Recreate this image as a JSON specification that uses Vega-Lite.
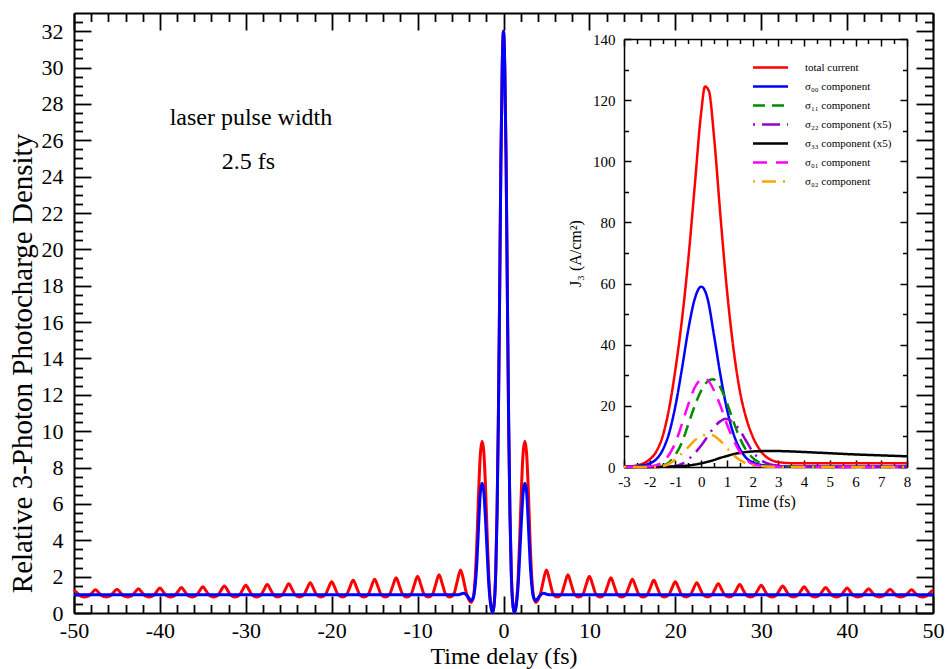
{
  "$schema": "https://vega.github.io/schema/vega-lite/v6.json",
  "width": 859,
  "height": 600,
  "autosize": {"type": "none"},
  "padding": {"left": 74, "top": 13, "right": 15, "bottom": 56},
  "background": "white",
  "config": {
    "font": "Liberation Serif",
    "view": {"stroke": null},
    "axis": {"grid": false, "domainColor": "black", "tickColor": "black", "labelColor": "black", "titleColor": "black", "titleFontWeight": "normal", "labelFlush": false, "labelOverlap": false},
    "legend": {"labelFont": "Liberation Serif", "labelFontSize": 11, "labelColor": "black"}
  },
  "datasets": {
    "red": [
      {"t": -50, "v": 1.26}, {"t": -49.6, "v": 1.1}, {"t": -49.25, "v": 0.94}, {"t": -48.75, "v": 0.88}, {"t": -48.25, "v": 0.95}, {"t": -47.9, "v": 1.11}, {"t": -47.5, "v": 1.28}, {"t": -47.1, "v": 1.11}, {"t": -46.75, "v": 0.95}, {"t": -46.25, "v": 0.88},
      {"t": -45.75, "v": 0.95}, {"t": -45.4, "v": 1.13}, {"t": -45, "v": 1.31}, {"t": -44.6, "v": 1.13}, {"t": -44.25, "v": 0.95}, {"t": -43.75, "v": 0.88}, {"t": -43.25, "v": 0.95}, {"t": -42.9, "v": 1.14}, {"t": -42.5, "v": 1.33}, {"t": -42.1, "v": 1.14}, {"t": -41.75, "v": 0.95}, {"t": -41.25, "v": 0.88},
      {"t": -40.75, "v": 0.96}, {"t": -40.4, "v": 1.16}, {"t": -40, "v": 1.37}, {"t": -39.6, "v": 1.16}, {"t": -39.25, "v": 0.96}, {"t": -38.75, "v": 0.88}, {"t": -38.25, "v": 0.96}, {"t": -37.9, "v": 1.18}, {"t": -37.5, "v": 1.4}, {"t": -37.1, "v": 1.18}, {"t": -36.75, "v": 0.96}, {"t": -36.25, "v": 0.88},
      {"t": -35.75, "v": 0.97}, {"t": -35.4, "v": 1.2}, {"t": -35, "v": 1.44}, {"t": -34.6, "v": 1.2}, {"t": -34.25, "v": 0.97}, {"t": -33.75, "v": 0.88}, {"t": -33.25, "v": 0.97}, {"t": -32.9, "v": 1.23}, {"t": -32.5, "v": 1.49}, {"t": -32.1, "v": 1.23}, {"t": -31.75, "v": 0.97}, {"t": -31.25, "v": 0.88},
      {"t": -30.75, "v": 0.98}, {"t": -30.4, "v": 1.25}, {"t": -30, "v": 1.53}, {"t": -29.6, "v": 1.25}, {"t": -29.25, "v": 0.98}, {"t": -28.75, "v": 0.88}, {"t": -28.25, "v": 0.98}, {"t": -27.9, "v": 1.27}, {"t": -27.5, "v": 1.57}, {"t": -27.1, "v": 1.27}, {"t": -26.75, "v": 0.98}, {"t": -26.25, "v": 0.88},
      {"t": -25.75, "v": 0.99}, {"t": -25.4, "v": 1.29}, {"t": -25, "v": 1.61}, {"t": -24.6, "v": 1.29}, {"t": -24.25, "v": 0.99}, {"t": -23.75, "v": 0.88}, {"t": -23.25, "v": 0.99}, {"t": -22.9, "v": 1.32}, {"t": -22.5, "v": 1.67}, {"t": -22.1, "v": 1.32}, {"t": -21.75, "v": 0.99}, {"t": -21.25, "v": 0.88},
      {"t": -20.75, "v": 1.0}, {"t": -20.4, "v": 1.35}, {"t": -20, "v": 1.72}, {"t": -19.6, "v": 1.35}, {"t": -19.25, "v": 1.0}, {"t": -18.75, "v": 0.88}, {"t": -18.25, "v": 1.01}, {"t": -17.9, "v": 1.4}, {"t": -17.5, "v": 1.8}, {"t": -17.1, "v": 1.4}, {"t": -16.75, "v": 1.01}, {"t": -16.25, "v": 0.88},
      {"t": -15.75, "v": 1.02}, {"t": -15.4, "v": 1.43}, {"t": -15, "v": 1.86}, {"t": -14.6, "v": 1.43}, {"t": -14.25, "v": 1.02}, {"t": -13.75, "v": 0.88}, {"t": -13.25, "v": 1.03}, {"t": -12.9, "v": 1.47}, {"t": -12.5, "v": 1.94}, {"t": -12.1, "v": 1.47}, {"t": -11.75, "v": 1.03}, {"t": -11.25, "v": 0.88},
      {"t": -10.75, "v": 1.03}, {"t": -10.4, "v": 1.52}, {"t": -10, "v": 2.02}, {"t": -9.6, "v": 1.52}, {"t": -9.25, "v": 1.03}, {"t": -8.75, "v": 0.88}, {"t": -8.25, "v": 1.04}, {"t": -7.9, "v": 1.56}, {"t": -7.5, "v": 2.1}, {"t": -7.1, "v": 1.56}, {"t": -6.75, "v": 1.04}, {"t": -6.25, "v": 0.88},
      {"t": -5.75, "v": 1.08}, {"t": -5.4, "v": 1.71}, {"t": -5, "v": 2.37}, {"t": -4.65, "v": 1.8}, {"t": -4.4, "v": 1.25}, {"t": -4.1, "v": 0.8}, {"t": -3.78, "v": 0.59}, {"t": -3.5, "v": 0.9}, {"t": -3.3, "v": 1.9}, {"t": -3.1, "v": 3.9}, {"t": -2.9, "v": 6.6}, {"t": -2.7, "v": 8.7}, {"t": -2.5, "v": 9.45}, {"t": -2.3, "v": 8.9}, {"t": -2.1, "v": 7.0}, {"t": -1.9, "v": 4.3}, {"t": -1.7, "v": 1.9}, {"t": -1.45, "v": 0.4}, {"t": -1.25, "v": 0.02},
      {"t": -1.05, "v": 0.7}, {"t": -0.9, "v": 2.3}, {"t": -0.75, "v": 5.5}, {"t": -0.6, "v": 10.5}, {"t": -0.45, "v": 17.5}, {"t": -0.3, "v": 25}, {"t": -0.15, "v": 30}, {"t": 0, "v": 32},
      {"t": 0.15, "v": 30}, {"t": 0.3, "v": 25}, {"t": 0.45, "v": 17.5}, {"t": 0.6, "v": 10.5}, {"t": 0.75, "v": 5.5}, {"t": 0.9, "v": 2.3}, {"t": 1.05, "v": 0.7},
      {"t": 1.25, "v": 0.02}, {"t": 1.45, "v": 0.4}, {"t": 1.7, "v": 1.9}, {"t": 1.9, "v": 4.3}, {"t": 2.1, "v": 7.0}, {"t": 2.3, "v": 8.9}, {"t": 2.5, "v": 9.45}, {"t": 2.7, "v": 8.7}, {"t": 2.9, "v": 6.6}, {"t": 3.1, "v": 3.9}, {"t": 3.3, "v": 1.9}, {"t": 3.5, "v": 0.9}, {"t": 3.78, "v": 0.59}, {"t": 4.1, "v": 0.8}, {"t": 4.4, "v": 1.25}, {"t": 4.65, "v": 1.8}, {"t": 5, "v": 2.37}, {"t": 5.4, "v": 1.71}, {"t": 5.75, "v": 1.08},
      {"t": 6.25, "v": 0.88}, {"t": 6.75, "v": 1.04}, {"t": 7.1, "v": 1.56}, {"t": 7.5, "v": 2.1}, {"t": 7.9, "v": 1.56}, {"t": 8.25, "v": 1.04}, {"t": 8.75, "v": 0.88}, {"t": 9.25, "v": 1.03}, {"t": 9.6, "v": 1.52}, {"t": 10, "v": 2.02}, {"t": 10.4, "v": 1.52}, {"t": 10.75, "v": 1.03},
      {"t": 11.25, "v": 0.88}, {"t": 11.75, "v": 1.03}, {"t": 12.1, "v": 1.47}, {"t": 12.5, "v": 1.94}, {"t": 12.9, "v": 1.47}, {"t": 13.25, "v": 1.03}, {"t": 13.75, "v": 0.88}, {"t": 14.25, "v": 1.02}, {"t": 14.6, "v": 1.43}, {"t": 15, "v": 1.86}, {"t": 15.4, "v": 1.43}, {"t": 15.75, "v": 1.02},
      {"t": 16.25, "v": 0.88}, {"t": 16.75, "v": 1.01}, {"t": 17.1, "v": 1.4}, {"t": 17.5, "v": 1.8}, {"t": 17.9, "v": 1.4}, {"t": 18.25, "v": 1.01}, {"t": 18.75, "v": 0.88}, {"t": 19.25, "v": 1.0}, {"t": 19.6, "v": 1.35}, {"t": 20, "v": 1.72}, {"t": 20.4, "v": 1.35}, {"t": 20.75, "v": 1.0},
      {"t": 21.25, "v": 0.88}, {"t": 21.75, "v": 0.99}, {"t": 22.1, "v": 1.32}, {"t": 22.5, "v": 1.67}, {"t": 22.9, "v": 1.32}, {"t": 23.25, "v": 0.99}, {"t": 23.75, "v": 0.88}, {"t": 24.25, "v": 0.99}, {"t": 24.6, "v": 1.29}, {"t": 25, "v": 1.61}, {"t": 25.4, "v": 1.29}, {"t": 25.75, "v": 0.99},
      {"t": 26.25, "v": 0.88}, {"t": 26.75, "v": 0.98}, {"t": 27.1, "v": 1.27}, {"t": 27.5, "v": 1.57}, {"t": 27.9, "v": 1.27}, {"t": 28.25, "v": 0.98}, {"t": 28.75, "v": 0.88}, {"t": 29.25, "v": 0.98}, {"t": 29.6, "v": 1.25}, {"t": 30, "v": 1.53}, {"t": 30.4, "v": 1.25}, {"t": 30.75, "v": 0.98},
      {"t": 31.25, "v": 0.88}, {"t": 31.75, "v": 0.97}, {"t": 32.1, "v": 1.23}, {"t": 32.5, "v": 1.49}, {"t": 32.9, "v": 1.23}, {"t": 33.25, "v": 0.97}, {"t": 33.75, "v": 0.88}, {"t": 34.25, "v": 0.97}, {"t": 34.6, "v": 1.2}, {"t": 35, "v": 1.44}, {"t": 35.4, "v": 1.2}, {"t": 35.75, "v": 0.97},
      {"t": 36.25, "v": 0.88}, {"t": 36.75, "v": 0.96}, {"t": 37.1, "v": 1.18}, {"t": 37.5, "v": 1.4}, {"t": 37.9, "v": 1.18}, {"t": 38.25, "v": 0.96}, {"t": 38.75, "v": 0.88}, {"t": 39.25, "v": 0.96}, {"t": 39.6, "v": 1.16}, {"t": 40, "v": 1.37}, {"t": 40.4, "v": 1.16}, {"t": 40.75, "v": 0.96},
      {"t": 41.25, "v": 0.88}, {"t": 41.75, "v": 0.95}, {"t": 42.1, "v": 1.14}, {"t": 42.5, "v": 1.33}, {"t": 42.9, "v": 1.14}, {"t": 43.25, "v": 0.95}, {"t": 43.75, "v": 0.88}, {"t": 44.25, "v": 0.95}, {"t": 44.6, "v": 1.13}, {"t": 45, "v": 1.31}, {"t": 45.4, "v": 1.13}, {"t": 45.75, "v": 0.95},
      {"t": 46.25, "v": 0.88}, {"t": 46.75, "v": 0.95}, {"t": 47.1, "v": 1.11}, {"t": 47.5, "v": 1.28}, {"t": 47.9, "v": 1.11}, {"t": 48.25, "v": 0.95}, {"t": 48.75, "v": 0.88}, {"t": 49.25, "v": 0.94}, {"t": 49.6, "v": 1.1}, {"t": 50, "v": 1.26}
    ],
    "blue": [
      {"t": -50, "v": 1.0}, {"t": -40, "v": 1.0}, {"t": -30, "v": 1.0}, {"t": -20, "v": 1.0}, {"t": -10, "v": 1.0}, {"t": -5.5, "v": 1.0}, {"t": -5.1, "v": 1.02}, {"t": -4.68, "v": 1.08}, {"t": -4.3, "v": 0.98}, {"t": -4.0, "v": 0.8}, {"t": -3.75, "v": 0.68}, {"t": -3.5, "v": 0.85}, {"t": -3.3, "v": 1.5}, {"t": -3.1, "v": 2.8}, {"t": -2.9, "v": 4.8}, {"t": -2.7, "v": 6.6}, {"t": -2.5, "v": 7.14}, {"t": -2.3, "v": 6.7}, {"t": -2.1, "v": 5.2}, {"t": -1.9, "v": 3.3}, {"t": -1.7, "v": 1.5}, {"t": -1.45, "v": 0.3}, {"t": -1.25, "v": 0.02},
      {"t": -1.05, "v": 0.7}, {"t": -0.9, "v": 2.3}, {"t": -0.75, "v": 5.5}, {"t": -0.6, "v": 10.5}, {"t": -0.45, "v": 17.5}, {"t": -0.3, "v": 25}, {"t": -0.15, "v": 30}, {"t": 0, "v": 32},
      {"t": 0.15, "v": 30}, {"t": 0.3, "v": 25}, {"t": 0.45, "v": 17.5}, {"t": 0.6, "v": 10.5}, {"t": 0.75, "v": 5.5}, {"t": 0.9, "v": 2.3}, {"t": 1.05, "v": 0.7},
      {"t": 1.25, "v": 0.02}, {"t": 1.45, "v": 0.3}, {"t": 1.7, "v": 1.5}, {"t": 1.9, "v": 3.3}, {"t": 2.1, "v": 5.2}, {"t": 2.3, "v": 6.7}, {"t": 2.5, "v": 7.14}, {"t": 2.7, "v": 6.6}, {"t": 2.9, "v": 4.8}, {"t": 3.1, "v": 2.8}, {"t": 3.3, "v": 1.5}, {"t": 3.5, "v": 0.85}, {"t": 3.75, "v": 0.68}, {"t": 4.0, "v": 0.8}, {"t": 4.3, "v": 0.98}, {"t": 4.68, "v": 1.08}, {"t": 5.1, "v": 1.02}, {"t": 5.5, "v": 1.0}, {"t": 10, "v": 1.0}, {"t": 20, "v": 1.0}, {"t": 30, "v": 1.0}, {"t": 40, "v": 1.0}, {"t": 50, "v": 1.0}
    ],
    "notes": [
      {"t": -29.4, "v": 27.2, "label": "laser pulse width"},
      {"t": -29.7, "v": 24.8, "label": "2.5 fs"}
    ],
    "inset": [
      {"s": "total current", "t": -3, "j": 0.1}, {"s": "total current", "t": -2.5, "j": 0.5}, {"s": "total current", "t": -2.25, "j": 1.2}, {"s": "total current", "t": -2, "j": 2.5}, {"s": "total current", "t": -1.75, "j": 5}, {"s": "total current", "t": -1.5, "j": 10}, {"s": "total current", "t": -1.25, "j": 19}, {"s": "total current", "t": -1, "j": 32}, {"s": "total current", "t": -0.75, "j": 48}, {"s": "total current", "t": -0.5, "j": 68}, {"s": "total current", "t": -0.25, "j": 92}, {"s": "total current", "t": 0, "j": 116}, {"s": "total current", "t": 0.15, "j": 124.5}, {"s": "total current", "t": 0.3, "j": 123}, {"s": "total current", "t": 0.5, "j": 108}, {"s": "total current", "t": 0.75, "j": 82}, {"s": "total current", "t": 1, "j": 58}, {"s": "total current", "t": 1.25, "j": 39}, {"s": "total current", "t": 1.5, "j": 25}, {"s": "total current", "t": 1.75, "j": 16}, {"s": "total current", "t": 2, "j": 10}, {"s": "total current", "t": 2.25, "j": 6}, {"s": "total current", "t": 2.5, "j": 3.5}, {"s": "total current", "t": 2.75, "j": 2.2}, {"s": "total current", "t": 3, "j": 1.6}, {"s": "total current", "t": 3.5, "j": 1.25}, {"s": "total current", "t": 4, "j": 1.2}, {"s": "total current", "t": 5, "j": 1.2}, {"s": "total current", "t": 6, "j": 1.2}, {"s": "total current", "t": 7, "j": 1.2}, {"s": "total current", "t": 8, "j": 1.2},
      {"s": "σ₀₀ component", "t": -3, "j": 0}, {"s": "σ₀₀ component", "t": -2.5, "j": 0.3}, {"s": "σ₀₀ component", "t": -2, "j": 1.2}, {"s": "σ₀₀ component", "t": -1.75, "j": 2.5}, {"s": "σ₀₀ component", "t": -1.5, "j": 5.5}, {"s": "σ₀₀ component", "t": -1.25, "j": 11}, {"s": "σ₀₀ component", "t": -1, "j": 20}, {"s": "σ₀₀ component", "t": -0.75, "j": 32}, {"s": "σ₀₀ component", "t": -0.5, "j": 45}, {"s": "σ₀₀ component", "t": -0.25, "j": 55}, {"s": "σ₀₀ component", "t": 0, "j": 59}, {"s": "σ₀₀ component", "t": 0.25, "j": 55}, {"s": "σ₀₀ component", "t": 0.5, "j": 43}, {"s": "σ₀₀ component", "t": 0.75, "j": 30}, {"s": "σ₀₀ component", "t": 1, "j": 19}, {"s": "σ₀₀ component", "t": 1.25, "j": 11}, {"s": "σ₀₀ component", "t": 1.5, "j": 6}, {"s": "σ₀₀ component", "t": 1.75, "j": 3}, {"s": "σ₀₀ component", "t": 2, "j": 1.5}, {"s": "σ₀₀ component", "t": 2.5, "j": 0.5}, {"s": "σ₀₀ component", "t": 3, "j": 0.3}, {"s": "σ₀₀ component", "t": 4, "j": 0.2}, {"s": "σ₀₀ component", "t": 6, "j": 0.2}, {"s": "σ₀₀ component", "t": 8, "j": 0.2},
      {"s": "σ₁₁ component", "t": -3, "j": 0}, {"s": "σ₁₁ component", "t": -2, "j": 0}, {"s": "σ₁₁ component", "t": -1.5, "j": 0.5}, {"s": "σ₁₁ component", "t": -1.25, "j": 1.5}, {"s": "σ₁₁ component", "t": -1, "j": 4}, {"s": "σ₁₁ component", "t": -0.75, "j": 8}, {"s": "σ₁₁ component", "t": -0.5, "j": 14}, {"s": "σ₁₁ component", "t": -0.25, "j": 20}, {"s": "σ₁₁ component", "t": 0, "j": 25}, {"s": "σ₁₁ component", "t": 0.25, "j": 28}, {"s": "σ₁₁ component", "t": 0.45, "j": 28.7}, {"s": "σ₁₁ component", "t": 0.75, "j": 26}, {"s": "σ₁₁ component", "t": 1, "j": 21}, {"s": "σ₁₁ component", "t": 1.25, "j": 15}, {"s": "σ₁₁ component", "t": 1.5, "j": 9.5}, {"s": "σ₁₁ component", "t": 1.75, "j": 5.5}, {"s": "σ₁₁ component", "t": 2, "j": 3}, {"s": "σ₁₁ component", "t": 2.25, "j": 1.5}, {"s": "σ₁₁ component", "t": 2.5, "j": 0.8}, {"s": "σ₁₁ component", "t": 3, "j": 0.3}, {"s": "σ₁₁ component", "t": 4, "j": 0.1}, {"s": "σ₁₁ component", "t": 5, "j": 0}, {"s": "σ₁₁ component", "t": 8, "j": 0},
      {"s": "σ₂₂ component (x5)", "t": -3, "j": 0}, {"s": "σ₂₂ component (x5)", "t": -1.5, "j": 0}, {"s": "σ₂₂ component (x5)", "t": -1, "j": 0.3}, {"s": "σ₂₂ component (x5)", "t": -0.75, "j": 1}, {"s": "σ₂₂ component (x5)", "t": -0.5, "j": 2.5}, {"s": "σ₂₂ component (x5)", "t": -0.25, "j": 4.5}, {"s": "σ₂₂ component (x5)", "t": 0, "j": 7}, {"s": "σ₂₂ component (x5)", "t": 0.25, "j": 10}, {"s": "σ₂₂ component (x5)", "t": 0.5, "j": 13}, {"s": "σ₂₂ component (x5)", "t": 0.75, "j": 15}, {"s": "σ₂₂ component (x5)", "t": 0.95, "j": 15.8}, {"s": "σ₂₂ component (x5)", "t": 1.25, "j": 14.5}, {"s": "σ₂₂ component (x5)", "t": 1.5, "j": 12}, {"s": "σ₂₂ component (x5)", "t": 1.75, "j": 8.5}, {"s": "σ₂₂ component (x5)", "t": 2, "j": 5}, {"s": "σ₂₂ component (x5)", "t": 2.25, "j": 2.8}, {"s": "σ₂₂ component (x5)", "t": 2.5, "j": 1.4}, {"s": "σ₂₂ component (x5)", "t": 3, "j": 0.4}, {"s": "σ₂₂ component (x5)", "t": 4, "j": 0.1}, {"s": "σ₂₂ component (x5)", "t": 5, "j": 0}, {"s": "σ₂₂ component (x5)", "t": 8, "j": 0},
      {"s": "σ₃₃ component (x5)", "t": -3, "j": 0}, {"s": "σ₃₃ component (x5)", "t": -1.5, "j": 0.05}, {"s": "σ₃₃ component (x5)", "t": -1, "j": 0.2}, {"s": "σ₃₃ component (x5)", "t": -0.5, "j": 0.5}, {"s": "σ₃₃ component (x5)", "t": 0, "j": 1.2}, {"s": "σ₃₃ component (x5)", "t": 0.25, "j": 1.7}, {"s": "σ₃₃ component (x5)", "t": 0.5, "j": 2.3}, {"s": "σ₃₃ component (x5)", "t": 0.75, "j": 3}, {"s": "σ₃₃ component (x5)", "t": 1, "j": 3.6}, {"s": "σ₃₃ component (x5)", "t": 1.25, "j": 4.2}, {"s": "σ₃₃ component (x5)", "t": 1.5, "j": 4.6}, {"s": "σ₃₃ component (x5)", "t": 1.75, "j": 4.9}, {"s": "σ₃₃ component (x5)", "t": 2, "j": 5.1}, {"s": "σ₃₃ component (x5)", "t": 2.5, "j": 5.2}, {"s": "σ₃₃ component (x5)", "t": 3, "j": 5.2}, {"s": "σ₃₃ component (x5)", "t": 4, "j": 4.9}, {"s": "σ₃₃ component (x5)", "t": 5, "j": 4.5}, {"s": "σ₃₃ component (x5)", "t": 6, "j": 4.1}, {"s": "σ₃₃ component (x5)", "t": 7, "j": 3.8}, {"s": "σ₃₃ component (x5)", "t": 8, "j": 3.5},
      {"s": "σ₀₁ component", "t": -3, "j": 0}, {"s": "σ₀₁ component", "t": -2, "j": 0.2}, {"s": "σ₀₁ component", "t": -1.5, "j": 1.5}, {"s": "σ₀₁ component", "t": -1.25, "j": 4}, {"s": "σ₀₁ component", "t": -1, "j": 8}, {"s": "σ₀₁ component", "t": -0.75, "j": 14}, {"s": "σ₀₁ component", "t": -0.5, "j": 20.5}, {"s": "σ₀₁ component", "t": -0.25, "j": 26}, {"s": "σ₀₁ component", "t": 0, "j": 28.7}, {"s": "σ₀₁ component", "t": 0.1, "j": 29}, {"s": "σ₀₁ component", "t": 0.25, "j": 28.5}, {"s": "σ₀₁ component", "t": 0.5, "j": 25}, {"s": "σ₀₁ component", "t": 0.75, "j": 20}, {"s": "σ₀₁ component", "t": 1, "j": 14}, {"s": "σ₀₁ component", "t": 1.25, "j": 9}, {"s": "σ₀₁ component", "t": 1.5, "j": 5}, {"s": "σ₀₁ component", "t": 1.75, "j": 2.5}, {"s": "σ₀₁ component", "t": 2, "j": 1}, {"s": "σ₀₁ component", "t": 2.5, "j": 0.3}, {"s": "σ₀₁ component", "t": 3, "j": 0.1}, {"s": "σ₀₁ component", "t": 4, "j": 0}, {"s": "σ₀₁ component", "t": 8, "j": 0},
      {"s": "σ₀₂ component", "t": -3, "j": 0}, {"s": "σ₀₂ component", "t": -2, "j": 0}, {"s": "σ₀₂ component", "t": -1.5, "j": 0.3}, {"s": "σ₀₂ component", "t": -1.25, "j": 1}, {"s": "σ₀₂ component", "t": -1, "j": 2.5}, {"s": "σ₀₂ component", "t": -0.75, "j": 4.5}, {"s": "σ₀₂ component", "t": -0.5, "j": 6.5}, {"s": "σ₀₂ component", "t": -0.25, "j": 8.7}, {"s": "σ₀₂ component", "t": 0, "j": 10}, {"s": "σ₀₂ component", "t": 0.3, "j": 10.6}, {"s": "σ₀₂ component", "t": 0.5, "j": 10.2}, {"s": "σ₀₂ component", "t": 0.75, "j": 8.5}, {"s": "σ₀₂ component", "t": 1, "j": 6.2}, {"s": "σ₀₂ component", "t": 1.25, "j": 4}, {"s": "σ₀₂ component", "t": 1.5, "j": 2.3}, {"s": "σ₀₂ component", "t": 1.75, "j": 1.2}, {"s": "σ₀₂ component", "t": 2, "j": 0.6}, {"s": "σ₀₂ component", "t": 2.5, "j": 0.2}, {"s": "σ₀₂ component", "t": 3, "j": 0.05}, {"s": "σ₀₂ component", "t": 4, "j": 0}, {"s": "σ₀₂ component", "t": 8, "j": 0}
    ]
  },
  "layer": [
    {
      "layer": [
        {
          "data": {"name": "red"},
          "mark": {"type": "line", "color": "#ff0000", "strokeWidth": 3, "interpolate": "monotone"},
          "encoding": {
            "x": {"field": "t", "type": "quantitative", "scale": {"domain": [-50, 50], "nice": false, "zero": false},
              "axis": {"orient": "bottom", "values": [-50,-48,-46,-44,-42,-40,-38,-36,-34,-32,-30,-28,-26,-24,-22,-20,-18,-16,-14,-12,-10,-8,-6,-4,-2,0,2,4,6,8,10,12,14,16,18,20,22,24,26,28,30,32,34,36,38,40,42,44,46,48,50],
                "tickSize": {"condition": {"test": "datum.value % 10 === 0", "value": -17}, "value": -8.5},
                "labelExpr": "datum.value % 10 === 0 ? '' + datum.value : ''",
                "labelFontSize": 22, "labelFont": "Liberation Serif", "labelPadding": 24,
                "domainWidth": 2, "tickWidth": 1.8,
                "title": "Time delay (fs)", "titleFont": "Liberation Serif", "titleFontSize": 24, "titleY": 50, "titleBaseline": "alphabetic"}},
            "y": {"field": "v", "type": "quantitative", "scale": {"domain": [0, 33], "nice": false, "zero": false},
              "axis": {"orient": "left", "values": [0,0.5,1,1.5,2,2.5,3,3.5,4,4.5,5,5.5,6,6.5,7,7.5,8,8.5,9,9.5,10,10.5,11,11.5,12,12.5,13,13.5,14,14.5,15,15.5,16,16.5,17,17.5,18,18.5,19,19.5,20,20.5,21,21.5,22,22.5,23,23.5,24,24.5,25,25.5,26,26.5,27,27.5,28,28.5,29,29.5,30,30.5,31,31.5,32,32.5],
                "tickSize": {"condition": {"test": "datum.value % 2 === 0", "value": -17}, "value": -8.5},
                "labelExpr": "datum.value % 2 === 0 ? '' + datum.value : ''",
                "labelFontSize": 22, "labelFont": "Liberation Serif", "labelPadding": 28,
                "domainWidth": 2, "tickWidth": 1.8,
                "title": "Relative 3-Photon Photocharge Density", "titleFont": "Liberation Serif", "titleFontSize": 29, "titleX": -43, "titleY": 350, "titleBaseline": "alphabetic"}}
          }
        },
        {
          "data": {"name": "blue"},
          "mark": {"type": "line", "color": "#0000ff", "strokeWidth": 3, "interpolate": "monotone"},
          "encoding": {
            "x": {"field": "t", "type": "quantitative", "scale": {"domain": [-50, 50], "nice": false, "zero": false},
              "axis": {"orient": "top", "values": [-50,-48,-46,-44,-42,-40,-38,-36,-34,-32,-30,-28,-26,-24,-22,-20,-18,-16,-14,-12,-10,-8,-6,-4,-2,0,2,4,6,8,10,12,14,16,18,20,22,24,26,28,30,32,34,36,38,40,42,44,46,48,50],
                "tickSize": {"condition": {"test": "datum.value % 10 === 0", "value": -17}, "value": -8.5},
                "labels": false, "title": null, "domainWidth": 2, "tickWidth": 1.8}},
            "y": {"field": "v", "type": "quantitative", "scale": {"domain": [0, 33], "nice": false, "zero": false},
              "axis": {"orient": "right", "values": [0,0.5,1,1.5,2,2.5,3,3.5,4,4.5,5,5.5,6,6.5,7,7.5,8,8.5,9,9.5,10,10.5,11,11.5,12,12.5,13,13.5,14,14.5,15,15.5,16,16.5,17,17.5,18,18.5,19,19.5,20,20.5,21,21.5,22,22.5,23,23.5,24,24.5,25,25.5,26,26.5,27,27.5,28,28.5,29,29.5,30,30.5,31,31.5,32,32.5],
                "tickSize": {"condition": {"test": "datum.value % 2 === 0", "value": -17}, "value": -8.5},
                "labels": false, "title": null, "domainWidth": 2, "tickWidth": 1.8}}
          }
        },
        {
          "data": {"name": "notes"},
          "mark": {"type": "text", "font": "Liberation Serif", "fontSize": 24, "align": "center", "baseline": "middle", "color": "black"},
          "encoding": {
            "x": {"field": "t", "type": "quantitative", "axis": null},
            "y": {"field": "v", "type": "quantitative", "axis": null},
            "text": {"field": "label"}
          }
        }
      ],
      "resolve": {"axis": {"x": "independent", "y": "independent"}}
    },
    {
      "data": {"name": "inset"},
      "layer": [
        {
          "transform": [{"filter": {"field": "s", "oneOf": ["total current", "σ₀₀ component", "σ₁₁ component", "σ₂₂ component (x5)"]}}],
          "mark": {"type": "line", "strokeWidth": 2.5, "interpolate": "monotone"},
          "encoding": {
            "x": {"field": "t", "type": "quantitative", "scale": {"domain": [-3, 8], "range": [550, 833], "nice": false, "zero": false},
              "axis": {"orient": "bottom", "offset": -146, "values": [-3,-2.5,-2,-1.5,-1,-0.5,0,0.5,1,1.5,2,2.5,3,3.5,4,4.5,5,5.5,6,6.5,7,7.5,8],
                "tickSize": {"condition": {"test": "datum.value % 1 === 0", "value": -7}, "value": -4.5},
                "labelExpr": "datum.value % 1 === 0 ? '' + datum.value : ''",
                "labelFontSize": 15, "labelFont": "Liberation Serif", "labelPadding": 14.5,
                "domainWidth": 1.5, "tickWidth": 1.5,
                "title": "Time (fs)", "titleFont": "Liberation Serif", "titleFontSize": 16, "titleY": 39, "titleBaseline": "alphabetic"}},
            "y": {"field": "j", "type": "quantitative", "scale": {"domain": [0, 140], "range": [454, 26], "nice": false, "zero": false},
              "axis": {"orient": "left", "offset": -550, "values": [0,10,20,30,40,50,60,70,80,90,100,110,120,130,140],
                "tickSize": {"condition": {"test": "datum.value % 20 === 0", "value": -7}, "value": -4.5},
                "labelExpr": "datum.value % 20 === 0 ? '' + datum.value : ''",
                "labelFontSize": 15, "labelFont": "Liberation Serif", "labelPadding": 16,
                "domainWidth": 1.5, "tickWidth": 1.5,
                "title": "J₃ (A/cm²)", "titleFont": "Liberation Serif", "titleFontSize": 16, "titleX": -44, "titleBaseline": "alphabetic"}},
            "color": {"field": "s", "type": "nominal",
              "scale": {"domain": ["total current", "σ₀₀ component", "σ₁₁ component", "σ₂₂ component (x5)", "σ₃₃ component (x5)", "σ₀₁ component", "σ₀₂ component"],
                        "range": ["#ff0000", "#0000ff", "#008b00", "#9400d3", "#000000", "#ff00ff", "#ffa500"]},
              "legend": {"orient": "none", "legendX": 691, "legendY": 49, "title": null, "symbolType": "M-5,0H5", "symbolSize": 49, "symbolStrokeWidth": 2.5, "labelOffset": 29, "rowPadding": 7, "padding": 0, "labelFontSize": 11}},
            "strokeDash": {"field": "s", "type": "nominal",
              "scale": {"domain": ["total current", "σ₀₀ component", "σ₁₁ component", "σ₂₂ component (x5)", "σ₃₃ component (x5)", "σ₀₁ component", "σ₀₂ component"],
                        "range": [[1, 0], [1, 0], [12, 7], [2, 7, 18, 7], [1, 0], [14, 9], [2, 7, 14, 7]]},
              "legend": {"orient": "none", "legendX": 691, "legendY": 49, "title": null, "symbolType": "M-5,0H5", "symbolSize": 49, "symbolStrokeWidth": 2.5, "labelOffset": 29, "rowPadding": 7, "padding": 0, "labelFontSize": 11}}
          }
        },
        {
          "transform": [{"filter": {"field": "s", "oneOf": ["σ₃₃ component (x5)", "σ₀₁ component", "σ₀₂ component"]}}],
          "mark": {"type": "line", "strokeWidth": 2.5, "interpolate": "monotone"},
          "encoding": {
            "x": {"field": "t", "type": "quantitative", "scale": {"domain": [-3, 8], "range": [550, 833], "nice": false, "zero": false},
              "axis": {"orient": "top", "offset": -26, "values": [-3,-2.5,-2,-1.5,-1,-0.5,0,0.5,1,1.5,2,2.5,3,3.5,4,4.5,5,5.5,6,6.5,7,7.5,8],
                "tickSize": {"condition": {"test": "datum.value % 1 === 0", "value": -7}, "value": -4.5},
                "labels": false, "title": null, "domainWidth": 1.5, "tickWidth": 1.5}},
            "y": {"field": "j", "type": "quantitative", "scale": {"domain": [0, 140], "range": [454, 26], "nice": false, "zero": false},
              "axis": {"orient": "right", "offset": -26, "values": [0,10,20,30,40,50,60,70,80,90,100,110,120,130,140],
                "tickSize": {"condition": {"test": "datum.value % 20 === 0", "value": -7}, "value": -4.5},
                "labels": false, "title": null, "domainWidth": 1.5, "tickWidth": 1.5}},
            "color": {"field": "s", "type": "nominal"},
            "strokeDash": {"field": "s", "type": "nominal"}
          }
        }
      ],
      "resolve": {"axis": {"x": "independent", "y": "independent"}}
    }
  ],
  "resolve": {"scale": {"x": "independent", "y": "independent"}}
}
